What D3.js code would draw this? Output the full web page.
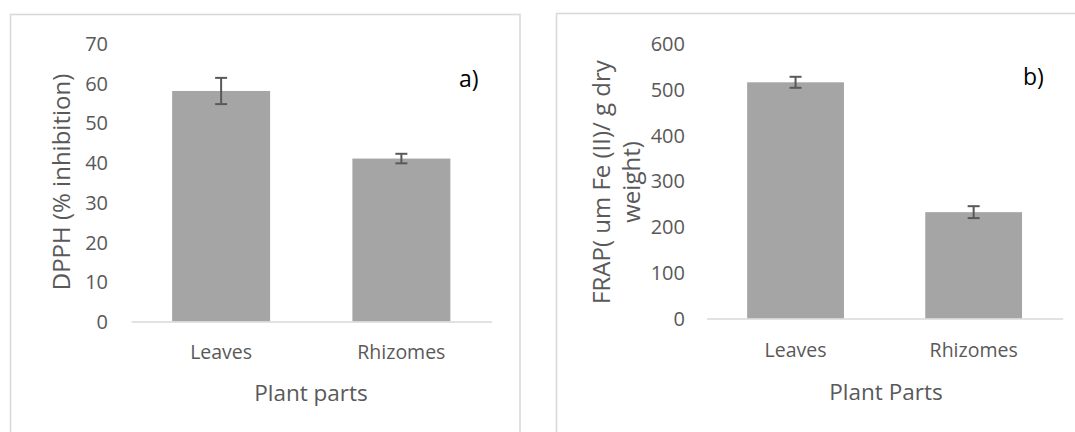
<!DOCTYPE html>
<html>
<head>
<meta charset="utf-8">
<script src="https://cdn.jsdelivr.net/npm/d3@7"></script>
<style>
  body { margin: 0; background: #fff; }
  svg { display: block; font-family: "Open Sans", sans-serif; }
</style>
</head>
<body>
<svg id="chart" width="1075" height="432"></svg>
<script>
// data
const categories = ["Leaves", "Rhizomes"];

const dpphValues = [58.0, 41.0];
const dpphErrors = [3.3, 1.2];
const dpphTicks = [0, 10, 20, 30, 40, 50, 60, 70];

const frapValues = [515, 232];
const frapErrors = [12, 13];
const frapTicks = [0, 100, 200, 300, 400, 500, 600];

const textColor = "#595959",
    barColor = "#a5a5a5",
    lineColor = "#d9d9d9",
    errColor = "#595959";

const gapWidth = 0.84; // excel style gap width

const drawPanel = function (svg, opts) {
    var rows = categories.map(function (c, i) {
        return { cat: c, value: opts.values[i], err: opts.errors[i] };
    });

    // frame
    svg.append("rect")
        .attr("x", opts.frame[0])
        .attr("y", opts.frame[1])
        .attr("width", opts.frame[2])
        .attr("height", 600)
        .attr("fill", "none")
        .attr("stroke", lineColor)
        .attr("stroke-width", 1.6);

    var x = d3.scaleBand()
        .domain(categories)
        .range([opts.left, opts.right])
        .paddingInner(gapWidth / (1 + gapWidth))
        .paddingOuter(gapWidth / 2 / (1 + gapWidth));

    var y = d3.scaleLinear()
        .domain([0, d3.max(opts.ticks)])
        .range([opts.baseline, opts.top]);

    // y tick labels
    var yAxis = svg.append("g")
        .attr("transform", "translate(" + opts.tickRight + ",0)")
        .call(d3.axisLeft(y).tickValues(opts.ticks).tickSize(0).tickPadding(0));
    yAxis.select(".domain").remove();
    yAxis.selectAll("text")
        .attr("font-family", "Open Sans")
        .attr("font-size", "20px")
        .attr("fill", textColor)
        .attr("dy", "0.35em");

    // bars
    svg.selectAll(null)
        .data(rows)
        .enter().append("rect")
        .attr("x", d => x(d.cat))
        .attr("width", x.bandwidth())
        .attr("y", d => y(d.value))
        .attr("height", d => y(0) - y(d.value))
        .attr("fill", barColor);

    // category axis
    var xAxis = svg.append("g")
        .attr("transform", "translate(0," + opts.baseline + ")")
        .call(d3.axisBottom(x).tickSize(0).tickSizeOuter(0));
    xAxis.select(".domain")
        .attr("stroke", lineColor)
        .attr("stroke-width", 1.5);
    xAxis.selectAll("text")
        .attr("font-family", "Open Sans")
        .attr("font-size", "19.5px")
        .attr("fill", textColor)
        .attr("y", opts.catOffset)
        .attr("dy", "0.35em");

    // error bars
    var cap = 6;
    rows.forEach(function (d) {
        var cx = x(d.cat) + x.bandwidth() / 2,
            y1 = y(d.value + d.err),
            y2 = y(d.value - d.err);
        var eb = svg.append("g")
            .attr("stroke", errColor)
            .attr("stroke-width", 2);
        eb.append("line").attr("x1", cx).attr("x2", cx).attr("y1", y1).attr("y2", y2);
        eb.append("line").attr("x1", cx - cap).attr("x2", cx + cap).attr("y1", y1).attr("y2", y1);
        eb.append("line").attr("x1", cx - cap).attr("x2", cx + cap).attr("y1", y2).attr("y2", y2);
    });

    // y axis title (one or more lines)
    opts.yTitle.forEach(function (line, i) {
        svg.append("text")
            .attr("transform", "translate(" + opts.yTitleX[i] + "," + opts.yTitleY + ") rotate(-90)")
            .attr("text-anchor", "middle")
            .attr("dy", "0.35em")
            .attr("font-size", "24px")
            .attr("fill", textColor)
            .text(line);
    });

    // x axis title
    svg.append("text")
        .attr("x", opts.xTitlePos[0])
        .attr("y", opts.xTitlePos[1])
        .attr("text-anchor", "middle")
        .attr("dy", "0.35em")
        .attr("font-size", "22.5px")
        .attr("fill", textColor)
        .text(opts.xTitle);

    // panel letter
    svg.append("text")
        .attr("x", opts.letterPos[0])
        .attr("y", opts.letterPos[1])
        .attr("dy", "0.35em")
        .attr("font-size", "23px")
        .attr("fill", "#000")
        .text(opts.letter);
};

var svg = d3.select("#chart");

drawPanel(svg, {
    values: dpphValues,
    errors: dpphErrors,
    ticks: dpphTicks,
    frame: [10.5, 14.5, 509.5],
    left: 131,
    right: 491.5,
    baseline: 321.5,
    top: 43.3,
    tickRight: 108,
    catOffset: 31,
    yTitle: ["DPPH (% inhibition)"],
    yTitleX: [62],
    yTitleY: 182,
    xTitle: "Plant parts",
    xTitlePos: [311, 393],
    letter: "a)",
    letterPos: [459, 79]
});

drawPanel(svg, {
    values: frapValues,
    errors: frapErrors,
    ticks: frapTicks,
    frame: [556.5, 13.5, 700],
    left: 706.5,
    right: 1062.7,
    baseline: 318.6,
    top: 43.3,
    tickRight: 685,
    catOffset: 32,
    yTitle: ["FRAP( um Fe (II)/ g dry", "weight)"],
    yTitleX: [602, 632],
    yTitleY: 182,
    xTitle: "Plant Parts",
    xTitlePos: [886, 392],
    letter: "b)",
    letterPos: [1023, 77]
});
</script>
</body>
</html>
